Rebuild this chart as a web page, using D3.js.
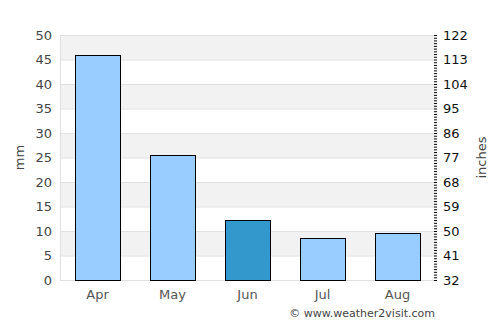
<!DOCTYPE html>
<html lang="en">
<head>
    <meta charset="UTF-8">
    <title>Rainfall</title>
    <script src="https://d3js.org/d3.v7.min.js"></script>
    <style>
        body { margin: 0; background: #fff; }
        svg { font-family: "DejaVu Sans", sans-serif; display: block; }
    </style>
</head>
<body>
    <div id="chart"></div>
    <script>
        const months = ["Apr", "May", "Jun", "Jul", "Aug"];
        const rainfall = [45.9, 25.5, 12.2, 8.6, 9.6];
        const highlight = "Jun";
        const mmTicks = [0, 5, 10, 15, 20, 25, 30, 35, 40, 45, 50];
        const inchLabels = [32, 41, 50, 59, 68, 77, 86, 95, 104, 113, 122];

        const width = 500, height = 325;
        const margin = { top: 35, right: 65, bottom: 45, left: 60 };

        const svg = d3.select("#chart").append("svg")
            .attr("width", width).attr("height", height);

        const x = d3.scaleBand().domain(months)
            .range([margin.left, width - margin.right])
            .paddingInner(0.4).paddingOuter(0.2);
        const y = d3.scaleLinear().domain([0, 50])
            .range([height - margin.bottom, margin.top]);
        const yRight = d3.scaleLinear().domain([32, 122])
            .range([height - margin.bottom, margin.top]);

        // alternating bands
        const bands = mmTicks.slice(0, -1).filter((d, i) => i % 2 === 1);
        svg.selectAll(".band").data(bands).enter().append("rect")
            .attr("x", margin.left)
            .attr("width", width - margin.right - margin.left)
            .attr("y", d => y(d + 5))
            .attr("height", d => y(d) - y(d + 5))
            .attr("fill", "#f2f2f2");

        // grid lines
        svg.selectAll(".grid").data(mmTicks).enter().append("line")
            .attr("x1", margin.left).attr("x2", width - margin.right)
            .attr("y1", d => y(d) + 0.5).attr("y2", d => y(d) + 0.5)
            .attr("stroke", "#e0e0e0");

        svg.append("line")
            .attr("x1", margin.left + 0.5).attr("x2", margin.left + 0.5)
            .attr("y1", y(50)).attr("y2", y(0))
            .attr("stroke", "#e0e0e0");

        // bars
        svg.selectAll(".bar").data(months).enter().append("rect")
            .attr("x", d => Math.round(x(d)) + 0.5)
            .attr("y", (d, i) => Math.round(y(rainfall[i])) + 0.5)
            .attr("width", Math.round(x.bandwidth()))
            .attr("height", (d, i) => Math.round(y(0)) - Math.round(y(rainfall[i])))
            .attr("fill", d => d === highlight ? "#3399cc" : "#99ccff")
            .attr("stroke", "#000");

        // left axis
        const left = svg.append("g").attr("transform", `translate(${margin.left},0)`)
            .call(d3.axisLeft(y).tickValues(mmTicks).tickSize(0).tickPadding(8));
        left.select(".domain").remove();
        left.selectAll("text").attr("font-size", 13).attr("fill", "#444")
            .attr("font-family", "DejaVu Sans");

        svg.append("text")
            .attr("transform", `translate(24,${(y(0) + y(50)) / 2}) rotate(-90)`)
            .attr("text-anchor", "middle")
            .attr("font-size", 13).attr("fill", "#444")
            .text("mm");

        // right axis with minor ticks
        const rx = width - margin.right;
        const right = svg.append("g").attr("transform", `translate(${rx},0)`);
        right.call(d3.axisRight(yRight).tickValues(d3.range(32, 123, 1)).tickSize(3).tickFormat(""));
        right.select(".domain").remove();
        right.selectAll("line").attr("transform", "translate(-1,0)");
        const rightLabels = svg.append("g").attr("transform", `translate(${rx},0)`)
            .call(d3.axisRight(yRight).tickValues(inchLabels).tickSize(0).tickPadding(8));
        rightLabels.select(".domain").remove();
        rightLabels.selectAll("text").attr("font-size", 13).attr("fill", "#111")
            .attr("font-family", "DejaVu Sans");

        svg.append("text")
            .attr("transform", `translate(486,${(y(0) + y(50)) / 2}) rotate(-90)`)
            .attr("text-anchor", "middle")
            .attr("font-size", 13).attr("fill", "#444")
            .text("inches");

        // x axis
        const bottom = svg.append("g").attr("transform", `translate(0,${height - margin.bottom})`)
            .call(d3.axisBottom(x).tickSize(0).tickPadding(10));
        bottom.select(".domain").remove();
        bottom.selectAll("text").attr("font-size", 13).attr("fill", "#555")
            .attr("font-family", "DejaVu Sans");

        svg.append("text")
            .attr("x", 435).attr("y", 317)
            .attr("text-anchor", "end")
            .attr("font-size", 11).attr("fill", "#444")
            .text("© www.weather2visit.com");
    </script>
</body>
</html>
